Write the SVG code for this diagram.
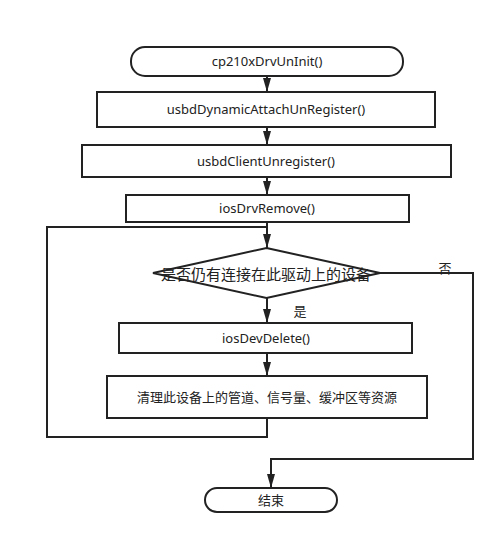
<svg xmlns="http://www.w3.org/2000/svg" width="504" height="543" viewBox="0 0 504 543">
<style>
.box{fill:#fff;stroke:#222;stroke-width:2}
.ln{fill:none;stroke:#222;stroke-width:2}
text{font-family:"Noto Sans","Noto Sans CJK SC",sans-serif;font-size:13px;fill:#222;text-anchor:middle}
.big{font-size:15px}
</style>
<defs>
<marker id="ah" markerUnits="userSpaceOnUse" markerWidth="14" markerHeight="8" refX="14" refY="4" orient="auto" viewBox="0 0 14 8">
<path d="M0,0 L14,4 L0,8 z" fill="#222"/>
</marker>
</defs>
<rect width="504" height="543" fill="#fff"/>
<g id="connectors">
<path class="ln" d="M267,76 V92" marker-end="url(#ah)"/>
<path class="ln" d="M267,127 V145" marker-end="url(#ah)"/>
<path class="ln" d="M267,177 V195" marker-end="url(#ah)"/>
<path class="ln" d="M267,222 V248" marker-end="url(#ah)"/>
<path class="ln" d="M267,298 V323" marker-end="url(#ah)"/>
<path class="ln" d="M267,353 V376" marker-end="url(#ah)"/>
<path class="ln" d="M267,418 V437 H47 V227 H267"/>
<path class="ln" d="M380,273 H473 V459 H271 V488" marker-end="url(#ah)"/>
<text x="300" y="316">是</text>
<text x="445" y="273">否</text>
</g>
<g id="start">
<rect class="box" x="131" y="47" width="272" height="29" rx="14" ry="14"/>
<text x="267" y="66">cp210xDrvUnInit()</text>
</g>
<g id="attach">
<rect class="box" x="97" y="92" width="338" height="35"/>
<text x="266" y="114">usbdDynamicAttachUnRegister()</text>
</g>
<g id="client">
<rect class="box" x="82" y="145" width="369" height="32"/>
<text x="266" y="166">usbdClientUnregister()</text>
</g>
<g id="drvremove">
<rect class="box" x="126" y="195" width="283" height="27"/>
<text x="267" y="213">iosDrvRemove()</text>
</g>
<g id="decision">
<polygon class="box" points="266.5,248 380,273 266.5,298 153,273"/>
<text class="big" x="266" y="279.5">是否仍有连接在此驱动上的设备</text>
</g>
<g id="devdelete">
<rect class="box" x="119" y="323" width="293" height="30"/>
<text x="266" y="343">iosDevDelete()</text>
</g>
<g id="cleanup">
<rect class="box" x="107" y="376" width="320" height="42"/>
<text x="267" y="402">清理此设备上的管道、信号量、缓冲区等资源</text>
</g>
<g id="end">
<rect class="box" x="205" y="488" width="132" height="24" rx="12" ry="12"/>
<text x="271" y="505">结束</text>
</g>
</svg>
